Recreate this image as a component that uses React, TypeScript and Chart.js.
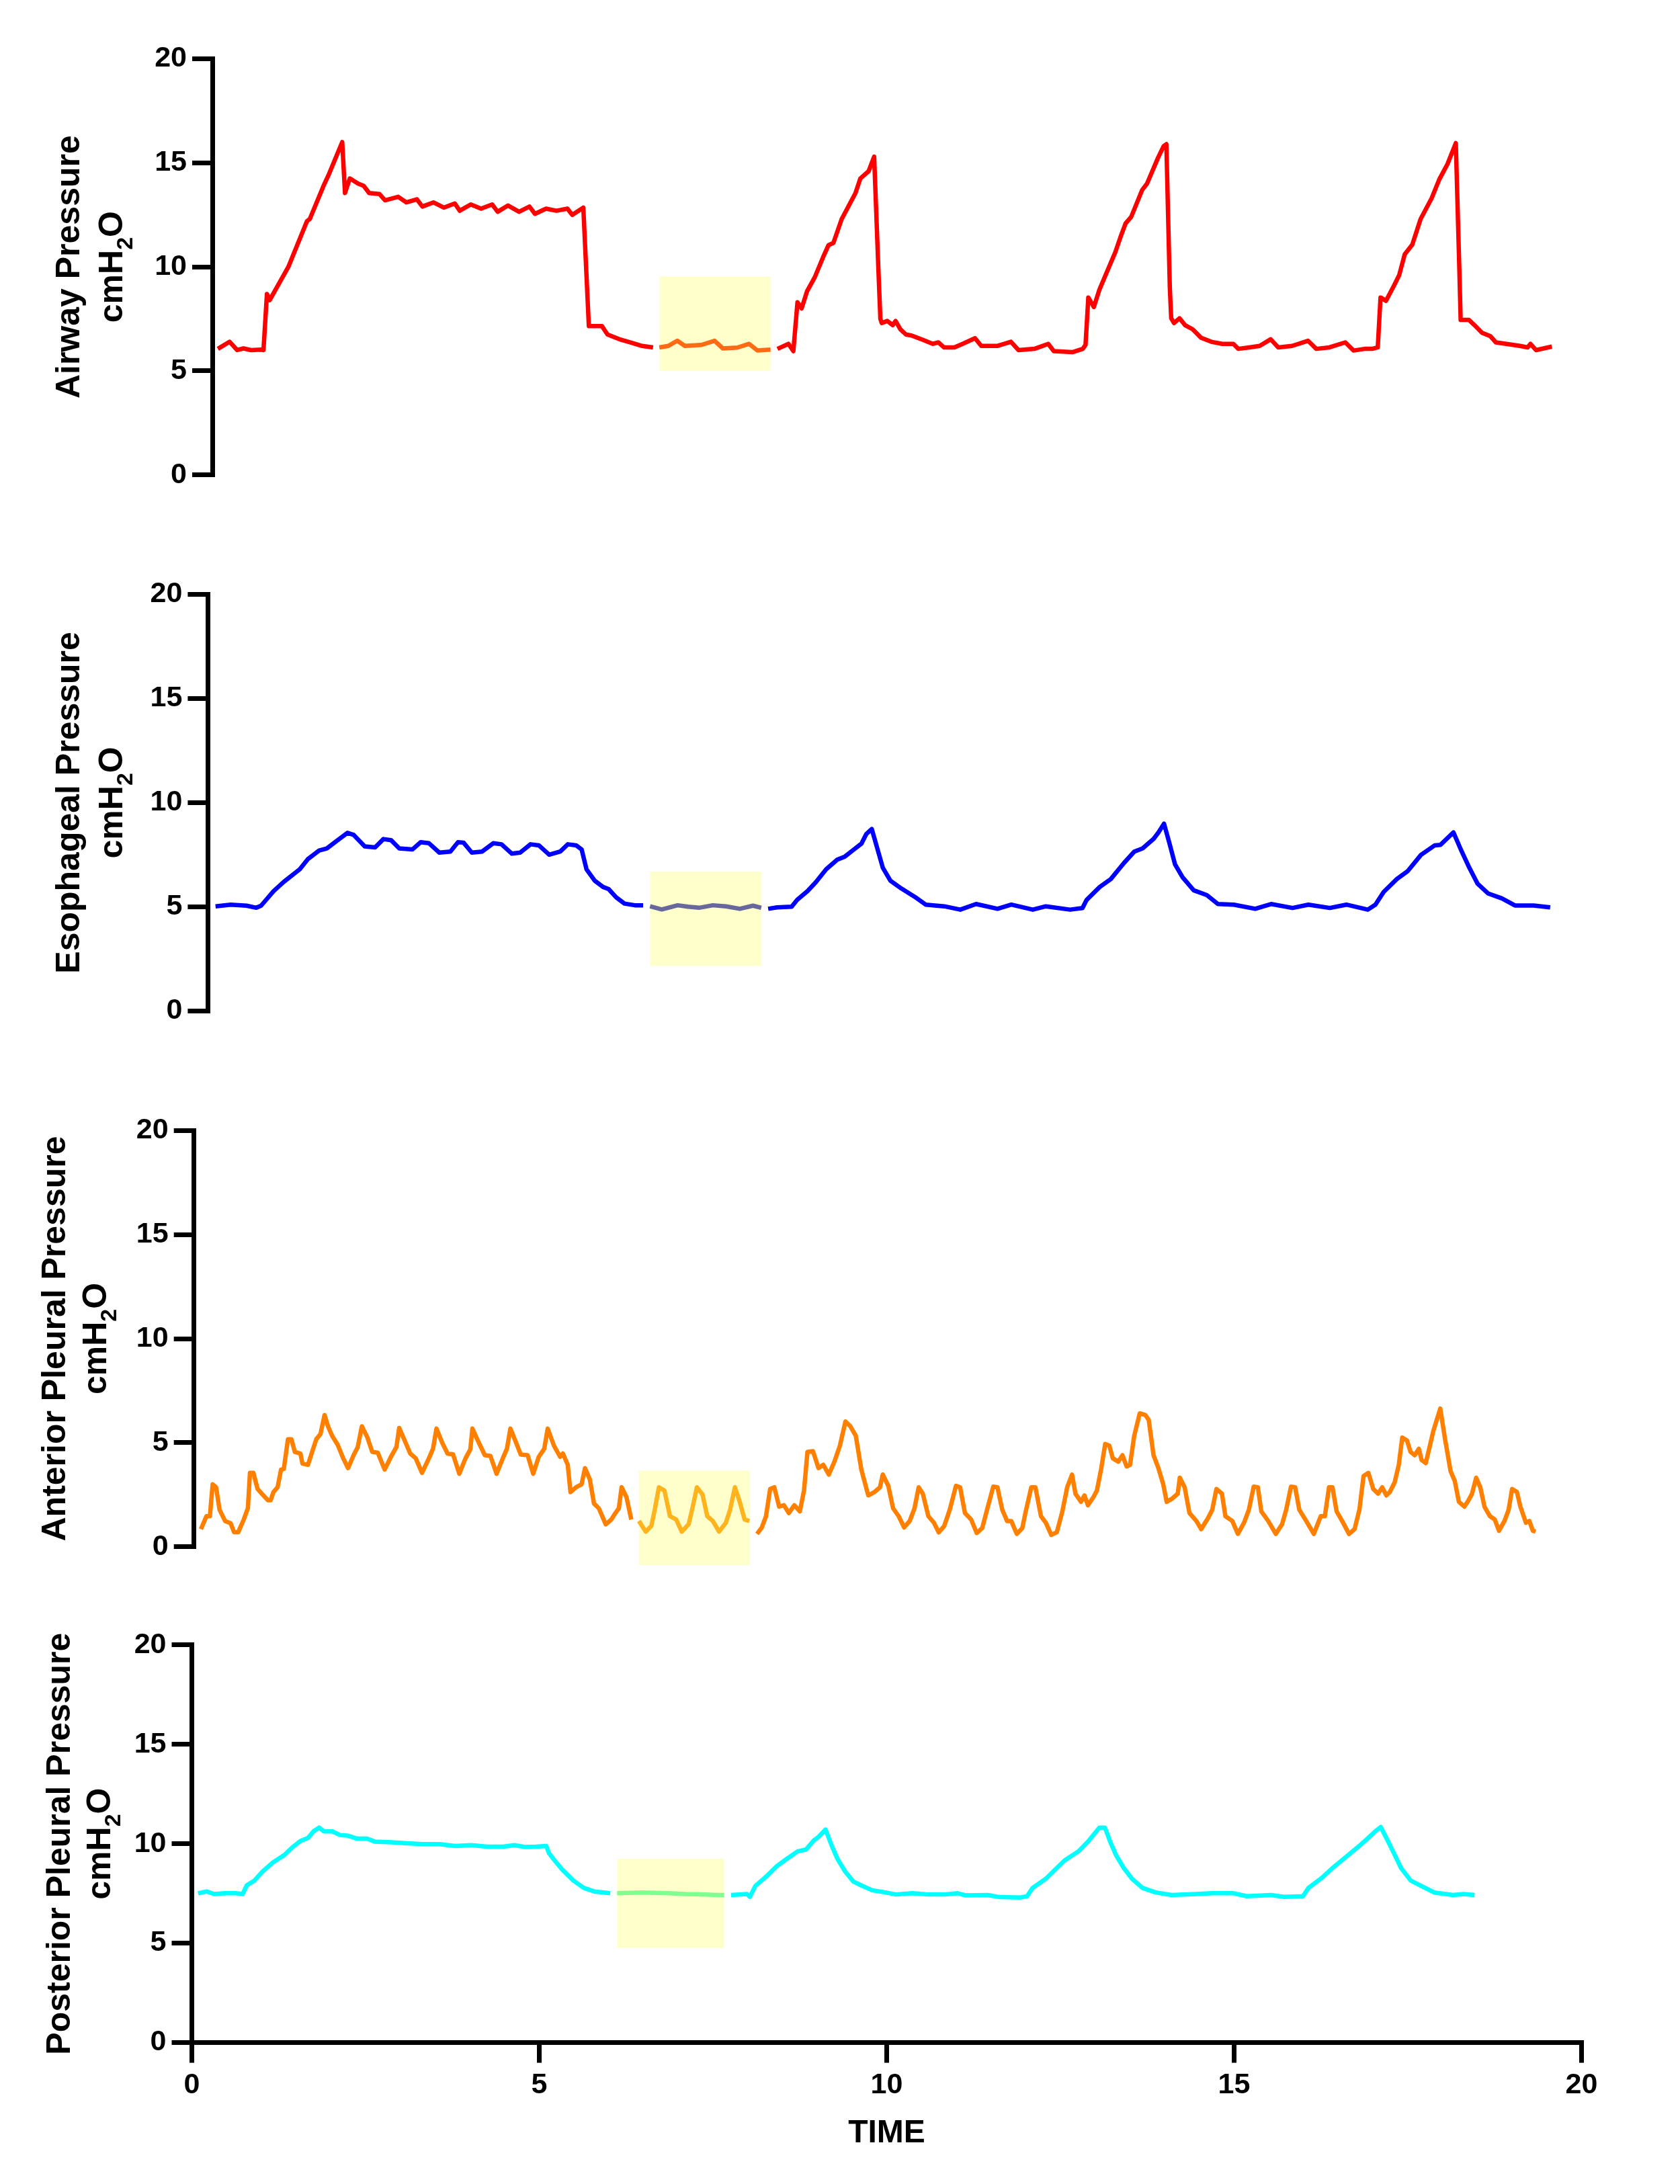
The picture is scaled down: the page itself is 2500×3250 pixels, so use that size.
import { useEffect, useRef } from "react";
import { Chart, registerables } from "chart.js";

Chart.register(...registerables);

const FONT = '"Liberation Sans", Arial, Helvetica, sans-serif';

type Pt = [number, number | null];

// traces: [time, cmH2O], null = break in the trace
const airwayPressure: Pt[] = [
  [0.08, 6.06], [0.25, 6.4], [0.36, 6.0], [0.45, 6.08], [0.56, 6.0], [0.71, 6.02], [0.74, 6.0],
  [0.79, 8.7], [0.83, 8.4], [1.1, 10.0], [1.37, 12.2], [1.41, 12.3], [1.61, 13.9], [1.68, 14.4],
  [1.88, 16.0], [1.92, 13.55], [1.99, 14.25], [2.11, 14.0], [2.19, 13.9], [2.27, 13.55], [2.42, 13.5],
  [2.5, 13.2], [2.69, 13.37], [2.81, 13.1], [2.96, 13.25], [3.04, 12.9], [3.2, 13.1], [3.35, 12.85],
  [3.51, 13.05], [3.58, 12.7], [3.74, 13.0], [3.89, 12.8], [4.05, 13.0], [4.13, 12.65], [4.28, 12.95],
  [4.44, 12.65], [4.59, 12.9], [4.67, 12.55], [4.83, 12.8], [4.98, 12.7], [5.14, 12.8], [5.21, 12.5],
  [5.37, 12.85], [5.45, 7.15], [5.64, 7.15], [5.72, 6.75], [5.91, 6.5], [6.07, 6.35], [6.22, 6.2],
  [6.38, 6.13], [6.42, null],
  [6.47, 6.13], [6.6, 6.2], [6.73, 6.45], [6.84, 6.2], [7.08, 6.25], [7.27, 6.45], [7.39, 6.08],
  [7.6, 6.12], [7.77, 6.3], [7.89, 5.98], [8.08, 6.02], [8.13, null],
  [8.18, 6.06], [8.34, 6.3], [8.41, 5.95], [8.47, 8.3], [8.53, 8.0], [8.61, 8.84], [8.72, 9.5],
  [8.84, 10.46], [8.92, 11.05], [8.99, 11.15], [9.11, 12.3], [9.19, 12.8], [9.31, 13.55], [9.38, 14.25],
  [9.5, 14.6], [9.58, 15.3], [9.64, 10.0], [9.67, 7.5], [9.69, 7.3], [9.77, 7.4], [9.85, 7.2],
  [9.89, 7.4], [9.96, 7.0], [10.04, 6.75], [10.12, 6.7], [10.28, 6.5], [10.43, 6.3], [10.51, 6.37],
  [10.59, 6.13], [10.74, 6.13], [10.86, 6.3], [11.04, 6.57], [11.13, 6.2], [11.36, 6.2], [11.56, 6.4],
  [11.67, 6.0], [11.9, 6.06], [12.1, 6.3], [12.18, 5.95], [12.45, 5.9], [12.6, 6.06], [12.64, 6.25],
  [12.68, 8.53], [12.76, 8.07], [12.84, 8.9], [12.95, 9.76], [13.07, 10.7], [13.15, 11.47], [13.22, 12.09],
  [13.3, 12.4], [13.46, 13.7], [13.53, 14.0], [13.69, 15.25], [13.77, 15.8], [13.81, 15.9], [13.86, 9.0],
  [13.88, 7.53], [13.92, 7.3], [14.0, 7.53], [14.08, 7.2], [14.19, 7.0], [14.31, 6.6], [14.46, 6.4],
  [14.62, 6.3], [14.78, 6.3], [14.85, 6.06], [15.01, 6.13], [15.16, 6.2], [15.32, 6.52], [15.43, 6.13],
  [15.63, 6.2], [15.86, 6.45], [15.98, 6.06], [16.17, 6.13], [16.4, 6.37], [16.52, 5.98], [16.68, 6.06],
  [16.79, 6.06], [16.87, 6.13], [16.91, 8.53], [16.99, 8.37], [17.1, 9.07], [17.18, 9.6], [17.26, 10.6],
  [17.37, 11.07], [17.49, 12.3], [17.65, 13.3], [17.76, 14.2], [17.88, 14.95], [18.0, 15.95], [18.05, 10.0],
  [18.07, 7.45], [18.19, 7.45], [18.27, 7.2], [18.38, 6.83], [18.5, 6.67], [18.58, 6.37], [18.73, 6.3],
  [18.93, 6.2], [19.04, 6.13], [19.08, 6.3], [19.16, 6.0], [19.39, 6.17],
];

const esophagealPressure: Pt[] = [
  [0.11, 5.02], [0.33, 5.1], [0.56, 5.05], [0.7, 4.95], [0.77, 5.05], [0.95, 5.75], [1.1, 6.2],
  [1.33, 6.8], [1.45, 7.3], [1.61, 7.7], [1.72, 7.8], [1.88, 8.2], [2.02, 8.55], [2.11, 8.45],
  [2.27, 7.9], [2.42, 7.85], [2.54, 8.25], [2.65, 8.2], [2.77, 7.8], [2.96, 7.75], [3.08, 8.1],
  [3.2, 8.05], [3.35, 7.6], [3.51, 7.65], [3.62, 8.1], [3.7, 8.08], [3.82, 7.6], [3.97, 7.65],
  [4.13, 8.05], [4.25, 8.0], [4.4, 7.55], [4.52, 7.6], [4.67, 8.0], [4.79, 7.95], [4.94, 7.5],
  [5.1, 7.65], [5.21, 8.0], [5.33, 7.95], [5.41, 7.75], [5.48, 6.8], [5.6, 6.25], [5.72, 5.95],
  [5.8, 5.85], [5.91, 5.45], [6.03, 5.15], [6.18, 5.07], [6.3, 5.07], [6.35, null],
  [6.4, 5.02], [6.57, 4.87], [6.8, 5.07], [6.95, 5.0], [7.11, 4.95], [7.31, 5.07], [7.5, 5.02],
  [7.7, 4.9], [7.89, 5.05], [8.01, 4.95], [8.06, null],
  [8.11, 4.9], [8.24, 4.97], [8.45, 5.0], [8.53, 5.33], [8.68, 5.75], [8.8, 6.18], [8.95, 6.8],
  [9.11, 7.26], [9.22, 7.41], [9.34, 7.72], [9.46, 8.03], [9.53, 8.49], [9.61, 8.73], [9.69, 7.8],
  [9.77, 6.87], [9.88, 6.25], [10.04, 5.87], [10.23, 5.48], [10.39, 5.1], [10.66, 5.02], [10.89, 4.86],
  [11.12, 5.13], [11.43, 4.9], [11.63, 5.1], [11.94, 4.86], [12.13, 5.02], [12.48, 4.86], [12.66, 4.94],
  [12.72, 5.33], [12.91, 5.95], [13.07, 6.33], [13.26, 7.1], [13.41, 7.65], [13.53, 7.8], [13.69, 8.26],
  [13.76, 8.57], [13.84, 8.99], [13.92, 8.03], [14.0, 7.03], [14.11, 6.41], [14.27, 5.79], [14.46, 5.56],
  [14.62, 5.13], [14.85, 5.1], [15.16, 4.9], [15.39, 5.13], [15.7, 4.94], [15.93, 5.1], [16.24, 4.94],
  [16.48, 5.1], [16.79, 4.86], [16.9, 5.1], [17.02, 5.71], [17.21, 6.33], [17.37, 6.72], [17.56, 7.49],
  [17.76, 7.95], [17.84, 7.97], [18.03, 8.57], [18.15, 7.65], [18.26, 6.87], [18.38, 6.1], [18.53, 5.64],
  [18.73, 5.4], [18.92, 5.06], [19.19, 5.06], [19.43, 4.97],
];

const anteriorPleuralPressure: Pt[] = [
  [0.1, 0.85], [0.18, 1.47], [0.23, 1.47], [0.27, 3.0], [0.32, 2.86], [0.37, 1.78], [0.45, 1.24],
  [0.53, 1.13], [0.58, 0.7], [0.64, 0.7], [0.72, 1.31], [0.78, 1.85], [0.81, 3.55], [0.86, 3.55],
  [0.92, 2.78], [0.99, 2.52], [1.07, 2.24], [1.11, 2.24], [1.15, 2.63], [1.21, 2.86], [1.26, 3.71],
  [1.3, 3.74], [1.36, 5.17], [1.41, 5.17], [1.46, 4.56], [1.54, 4.48], [1.57, 4.0], [1.65, 3.94],
  [1.71, 4.56], [1.77, 5.17], [1.83, 5.41], [1.89, 6.33], [1.94, 5.79], [2.0, 5.33], [2.08, 4.9],
  [2.16, 4.25], [2.23, 3.78], [2.31, 4.4], [2.37, 4.79], [2.43, 5.79], [2.51, 5.25], [2.58, 4.56],
  [2.66, 4.52], [2.76, 3.71], [2.85, 4.32], [2.93, 4.79], [2.97, 5.71], [3.05, 5.1], [3.13, 4.48],
  [3.21, 4.25], [3.3, 3.55], [3.4, 4.25], [3.46, 4.71], [3.51, 5.68], [3.59, 5.02], [3.67, 4.48],
  [3.75, 4.44], [3.84, 3.51], [3.93, 4.25], [4.0, 4.68], [4.03, 5.68], [4.12, 5.02], [4.21, 4.4],
  [4.29, 4.37], [4.38, 3.51], [4.47, 4.25], [4.53, 4.71], [4.58, 5.68], [4.66, 5.02], [4.73, 4.43],
  [4.83, 4.4], [4.91, 3.51], [4.99, 4.32], [5.07, 4.71], [5.12, 5.68], [5.21, 4.86], [5.3, 4.32],
  [5.34, 4.48], [5.41, 3.94], [5.45, 2.63], [5.53, 2.86], [5.61, 3.0], [5.66, 3.78], [5.73, 3.24],
  [5.79, 2.08], [5.86, 1.85], [5.96, 1.08], [6.04, 1.31], [6.1, 1.62], [6.15, 1.85], [6.19, 2.86],
  [6.26, 2.39], [6.33, 1.31], [6.39, null],
  [6.44, 1.24], [6.54, 0.73], [6.62, 1.0], [6.67, 1.78], [6.73, 2.86], [6.81, 2.7], [6.89, 1.47],
  [6.98, 1.31], [7.06, 0.73], [7.16, 1.08], [7.21, 1.78], [7.28, 2.86], [7.36, 2.52], [7.43, 1.47],
  [7.51, 1.24], [7.6, 0.73], [7.7, 1.16], [7.76, 1.78], [7.83, 2.86], [7.9, 2.16], [7.97, 1.31],
  [8.04, 1.24], [8.1, null],
  [8.15, 0.62], [8.22, 0.93], [8.28, 1.47], [8.34, 2.78], [8.4, 2.86], [8.47, 1.93], [8.54, 2.0],
  [8.61, 1.62], [8.69, 2.0], [8.77, 1.7], [8.83, 2.7], [8.88, 4.56], [8.96, 4.59], [9.04, 3.78],
  [9.11, 3.94], [9.19, 3.47], [9.27, 4.09], [9.35, 4.86], [9.43, 6.02], [9.5, 5.79], [9.58, 5.33],
  [9.66, 3.71], [9.76, 2.47], [9.85, 2.63], [9.93, 2.86], [9.97, 3.47], [10.05, 2.93], [10.12, 1.85],
  [10.2, 1.47], [10.28, 0.93], [10.36, 1.24], [10.43, 1.85], [10.49, 2.86], [10.55, 2.55], [10.63, 1.47],
  [10.71, 1.16], [10.78, 0.69], [10.86, 1.0], [10.94, 1.78], [11.03, 2.93], [11.09, 2.86], [11.16, 1.62],
  [11.25, 1.31], [11.33, 0.66], [11.41, 0.9], [11.48, 1.78], [11.57, 2.89], [11.63, 2.86], [11.7, 1.78],
  [11.77, 1.24], [11.83, 1.24], [11.91, 0.62], [11.99, 0.9], [12.04, 1.7], [12.12, 2.86], [12.18, 2.86],
  [12.26, 1.47], [12.33, 1.16], [12.41, 0.57], [12.49, 0.7], [12.57, 1.7], [12.64, 2.86], [12.71, 3.47],
  [12.76, 2.55], [12.84, 2.16], [12.89, 2.47], [12.94, 2.0], [13.02, 2.39], [13.07, 2.7], [13.13, 3.71],
  [13.19, 4.94], [13.25, 4.86], [13.3, 4.25], [13.38, 4.09], [13.44, 4.4], [13.5, 3.86], [13.55, 3.94],
  [13.61, 5.33], [13.69, 6.41], [13.77, 6.33], [13.82, 6.1], [13.89, 4.4], [13.96, 3.78], [14.03, 3.01],
  [14.08, 2.16], [14.16, 2.32], [14.24, 2.55], [14.27, 3.32], [14.34, 2.86], [14.41, 1.62], [14.51, 1.24],
  [14.58, 0.85], [14.68, 1.39], [14.74, 1.78], [14.8, 2.78], [14.88, 2.55], [14.93, 1.47], [15.03, 1.24],
  [15.11, 0.62], [15.2, 1.16], [15.27, 1.78], [15.34, 2.89], [15.4, 2.86], [15.45, 1.7], [15.55, 1.24],
  [15.66, 0.62], [15.75, 1.08], [15.81, 1.78], [15.88, 2.89], [15.94, 2.86], [16.0, 1.78], [16.1, 1.24],
  [16.21, 0.62], [16.31, 1.47], [16.37, 1.47], [16.43, 2.86], [16.48, 2.86], [16.54, 1.7], [16.62, 1.24],
  [16.72, 0.62], [16.8, 0.85], [16.87, 1.78], [16.93, 3.4], [17.0, 3.55], [17.07, 2.78], [17.14, 2.55],
  [17.2, 2.86], [17.26, 2.47], [17.31, 2.63], [17.38, 3.09], [17.44, 3.94], [17.49, 5.25], [17.56, 5.1],
  [17.61, 4.56], [17.67, 4.4], [17.73, 4.71], [17.77, 4.17], [17.83, 4.02], [17.88, 4.71], [17.94, 5.56],
  [18.04, 6.64], [18.11, 5.17], [18.19, 3.63], [18.25, 3.17], [18.31, 2.16], [18.39, 1.93], [18.45, 2.24],
  [18.5, 2.55], [18.56, 3.32], [18.62, 2.86], [18.68, 1.93], [18.76, 1.47], [18.83, 1.31], [18.89, 0.77],
  [18.97, 1.24], [19.03, 1.78], [19.08, 2.78], [19.15, 2.63], [19.2, 1.93], [19.28, 1.16], [19.33, 1.24],
  [19.38, 0.77], [19.42, 0.73],
];

const posteriorPleuralPressure: Pt[] = [
  [0.09, 7.51], [0.21, 7.6], [0.32, 7.47], [0.48, 7.51], [0.63, 7.51], [0.73, 7.47], [0.79, 7.91],
  [0.9, 8.15], [1.02, 8.61], [1.17, 9.07], [1.33, 9.43], [1.44, 9.8], [1.56, 10.13], [1.67, 10.29],
  [1.75, 10.62], [1.83, 10.81], [1.9, 10.62], [2.02, 10.62], [2.13, 10.44], [2.25, 10.4], [2.37, 10.26],
  [2.52, 10.26], [2.63, 10.11], [2.87, 10.07], [3.1, 10.02], [3.33, 9.98], [3.56, 9.98], [3.79, 9.89],
  [4.02, 9.93], [4.25, 9.85], [4.48, 9.85], [4.64, 9.93], [4.79, 9.84], [4.95, 9.85], [5.1, 9.89],
  [5.14, 9.52], [5.22, 9.16], [5.33, 8.7], [5.49, 8.15], [5.64, 7.78], [5.79, 7.6], [6.02, 7.51],
  [6.07, null],
  [6.12, 7.51], [6.49, 7.55], [6.87, 7.51], [7.1, 7.47], [7.33, 7.45], [7.56, 7.42], [7.66, 7.42],
  [7.71, null],
  [7.76, 7.42], [7.99, 7.47], [8.03, 7.33], [8.11, 7.88], [8.26, 8.33], [8.42, 8.88], [8.53, 9.16],
  [8.72, 9.62], [8.84, 9.71], [8.95, 10.16], [9.02, 10.35], [9.12, 10.71], [9.21, 9.89], [9.29, 9.25],
  [9.4, 8.61], [9.52, 8.1], [9.63, 7.91], [9.79, 7.66], [9.98, 7.55], [10.13, 7.45], [10.37, 7.51],
  [10.6, 7.45], [10.83, 7.45], [11.02, 7.51], [11.14, 7.4], [11.45, 7.42], [11.6, 7.33], [11.91, 7.29],
  [12.02, 7.36], [12.1, 7.78], [12.29, 8.24], [12.45, 8.79], [12.56, 9.16], [12.76, 9.62], [12.91, 10.16],
  [13.06, 10.81], [13.14, 10.81], [13.22, 10.07], [13.3, 9.43], [13.41, 8.79], [13.53, 8.24], [13.68, 7.78],
  [13.87, 7.55], [14.1, 7.42], [14.45, 7.47], [14.68, 7.51], [14.99, 7.51], [15.18, 7.36], [15.53, 7.42],
  [15.72, 7.33], [15.99, 7.36], [16.07, 7.78], [16.26, 8.28], [16.42, 8.79], [16.61, 9.34], [16.77, 9.8],
  [16.92, 10.26], [17.03, 10.62], [17.11, 10.84], [17.21, 10.16], [17.3, 9.52], [17.4, 8.79], [17.54, 8.15],
  [17.69, 7.88], [17.88, 7.55], [18.15, 7.42], [18.3, 7.47], [18.46, 7.42],
];

// highlighted windows: [x0, x1, y0, y1]
const airwayWindow = [6.47, 8.08, 5.0, 9.54];
const esophagealWindow = [6.4, 8.01, 2.16, 6.69];
const anteriorWindow = [6.44, 8.05, -0.88, 3.66];
const posteriorWindow = [6.12, 7.66, 4.76, 9.25];

const yTicks = [0, 5, 10, 15, 20];
const xTicks = [0, 5, 10, 15, 20];

interface PanelSpec {
  label: string;
  trace: Pt[];
  win: number[];
  color: string;
  winLineColor: string;
  top: number;
  height: number;
  axisX: number;
  yTop: number;
  yBottom: number;
  pxPerUnit: number;
  titleX: [number, number];
  showX: boolean;
}

const panels: PanelSpec[] = [
  {
    label: "Airway Pressure", trace: airwayPressure, win: airwayWindow,
    color: "#FF0000", winLineColor: "#FF6A14",
    top: 0, height: 800, axisX: 316, yTop: 87.6, yBottom: 706.7, pxPerUnit: 102.8,
    titleX: [118, 182], showX: false,
  },
  {
    label: "Esophageal Pressure", trace: esophagealPressure, win: esophagealWindow,
    color: "#0000FF", winLineColor: "#68689C",
    top: 800, height: 800, axisX: 309.4, yTop: 884.6, yBottom: 1504.2, pxPerUnit: 102.8,
    titleX: [118, 182], showX: false,
  },
  {
    label: "Anterior Pleural Pressure", trace: anteriorPleuralPressure, win: anteriorWindow,
    color: "#FF8000", winLineColor: "#FFB41E",
    top: 1600, height: 780, axisX: 288.7, yTop: 1682.2, yBottom: 2301.8, pxPerUnit: 102.8,
    titleX: [97, 158], showX: false,
  },
  {
    label: "Posterior Pleural Pressure", trace: posteriorPleuralPressure, win: posteriorWindow,
    color: "#00FFFF", winLineColor: "#80FF90",
    top: 2380, height: 870, axisX: 285.5, yTop: 2447.7, yBottom: 3039.6, pxPerUnit: 103.4,
    titleX: [104, 164], showX: true,
  },
];

function Panel({ spec }: { spec: PanelSpec }) {
  const canvasRef = useRef<HTMLCanvasElement>(null);

  useEffect(() => {
    if (!canvasRef.current) return;
    const ctx = canvasRef.current.getContext("2d");
    if (!ctx) return;

    const yAxisWidth = 200;
    const xAxisHeight = spec.showX ? 163.6 : 0;
    const chartTop = spec.yTop - spec.top;
    const chartBottom = spec.yBottom - spec.top;
    const plotRight = spec.axisX + 20 * spec.pxPerUnit;
    const [wx0, wx1, wy0, wy1] = spec.win;

    const windowPlugin = {
      id: "windowBox",
      beforeDatasetsDraw(chart: any) {
        const { x, y } = chart.scales;
        const c = chart.ctx;
        const left = x.getPixelForValue(wx0);
        const right = x.getPixelForValue(wx1);
        const top = y.getPixelForValue(wy1);
        const bottom = y.getPixelForValue(wy0);
        c.save();
        c.fillStyle = "#FFFFCC";
        c.fillRect(left, top, right - left, bottom - top);
        c.restore();
      },
    };

    const titlePlugin = {
      id: "yTitle",
      afterDraw(chart: any) {
        const c = chart.ctx;
        const { top, bottom } = chart.chartArea;
        const cy = (top + bottom) / 2;
        const big = `bold 50px ${FONT}`;
        const small = `bold 34px ${FONT}`;
        c.save();
        c.fillStyle = "#000";
        c.textBaseline = "alphabetic";
        c.translate(spec.titleX[0], cy);
        c.rotate(-Math.PI / 2);
        c.font = big;
        c.textAlign = "center";
        c.fillText(spec.label, 0, 0);
        c.restore();

        c.save();
        c.fillStyle = "#000";
        c.textBaseline = "alphabetic";
        c.translate(spec.titleX[1], cy);
        c.rotate(-Math.PI / 2);
        c.font = big;
        const w1 = c.measureText("cmH").width;
        const w3 = c.measureText("O").width;
        c.font = small;
        const w2 = c.measureText("2").width;
        let px = -(w1 + w2 + w3) / 2;
        c.textAlign = "left";
        c.font = big;
        c.fillText("cmH", px, 0);
        px += w1;
        c.font = small;
        c.fillText("2", px, 15);
        px += w2;
        c.font = big;
        c.fillText("O", px, 0);
        c.restore();
      },
    };

    const tickFont = { family: FONT, size: 43, weight: "bold" as const };

    const chart = new Chart(ctx, {
      type: "line",
      data: {
        datasets: [
          {
            data: spec.trace.map(([x, y]) => ({ x, y })),
            borderColor: spec.color,
            borderWidth: 6.5,
            borderCapStyle: "butt",
            borderJoinStyle: "round",
            pointRadius: 0,
            tension: 0,
            spanGaps: false,
            segment: {
              borderColor: (s: any) => {
                const t = s.p0.parsed.x;
                return t >= wx0 - 1e-6 && t < wx1 ? spec.winLineColor : undefined;
              },
            },
          },
        ],
      },
      options: {
        responsive: false,
        animation: false,
        devicePixelRatio: 1,
        events: [],
        layout: {
          padding: {
            top: chartTop,
            bottom: spec.height - chartBottom - xAxisHeight,
            left: spec.axisX - yAxisWidth,
            right: 2500 - plotRight,
          },
        },
        plugins: {
          legend: { display: false },
          tooltip: { enabled: false },
        },
        scales: {
          x: {
            type: "linear",
            display: spec.showX,
            min: 0,
            max: 20,
            afterFit: (s: any) => {
              s.height = xAxisHeight;
            },
            afterBuildTicks: (s: any) => {
              s.ticks = xTicks.map((value) => ({ value }));
            },
            border: { display: true, color: "#000", width: 7 },
            grid: { drawOnChartArea: false, color: "#000", lineWidth: 7, tickLength: 30 },
            ticks: { color: "#000", padding: 8, maxRotation: 0, font: tickFont },
            title: {
              display: true,
              text: "TIME",
              color: "#000",
              padding: 0,
              font: { family: FONT, size: 48, weight: "bold" },
            },
          },
          y: {
            type: "linear",
            min: 0,
            max: 20,
            afterFit: (s: any) => {
              s.width = yAxisWidth;
            },
            afterBuildTicks: (s: any) => {
              s.ticks = yTicks.map((value) => ({ value }));
            },
            border: { display: true, color: "#000", width: 7 },
            grid: { drawOnChartArea: false, color: "#000", lineWidth: 7, tickLength: 30 },
            ticks: { color: "#000", padding: 8, font: tickFont },
          },
        },
      },
      plugins: [windowPlugin, titlePlugin],
    });

    return () => {
      chart.destroy();
    };
  }, [spec]);

  return (
    <canvas
      ref={canvasRef}
      width={2500}
      height={spec.height}
      style={{ position: "absolute", left: 0, top: spec.top, width: 2500, height: spec.height }}
    />
  );
}

export default function App() {
  return (
    <div style={{ position: "absolute", left: 0, top: 0, width: 2500, height: 3250, background: "#fff" }}>
      {panels.map((p) => (
        <Panel key={p.label} spec={p} />
      ))}
    </div>
  );
}
